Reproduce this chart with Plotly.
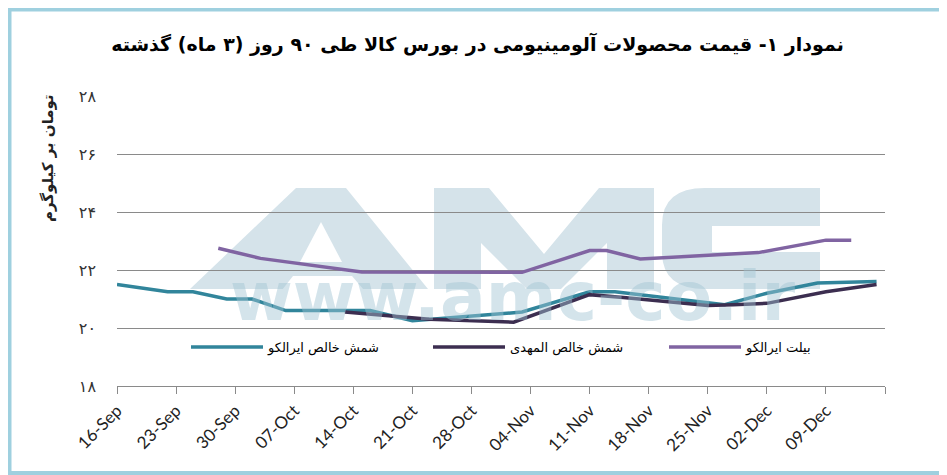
import plotly.graph_objects as go

# ---------------- data ----------------
tick_dates = ["2019-09-16", "2019-09-23", "2019-09-30", "2019-10-07", "2019-10-14",
              "2019-10-21", "2019-10-28", "2019-11-04", "2019-11-11", "2019-11-18",
              "2019-11-25", "2019-12-02", "2019-12-09", "2019-12-16"]
tick_labels = ["16-Sep", "23-Sep", "30-Sep", "07-Oct", "14-Oct", "21-Oct", "28-Oct",
               "04-Nov", "11-Nov", "18-Nov", "25-Nov", "02-Dec", "09-Dec", ""]

y_tick_vals = [18, 20, 22, 24, 26, 28]
y_tick_labels = ["۱۸", "۲۰", "۲۲", "۲۴", "۲۶", "۲۸"]

iralco_ingot_dates = ["2019-09-16", "2019-09-22", "2019-09-25", "2019-09-29", "2019-10-02",
                      "2019-10-06", "2019-10-13", "2019-10-16", "2019-10-21", "2019-11-03",
                      "2019-11-11", "2019-11-14", "2019-11-27", "2019-12-02", "2019-12-08",
                      "2019-12-15"]
iralco_ingot_values = [21.5, 21.25, 21.25, 21.0, 21.0, 20.6, 20.6, 20.6, 20.25, 20.55,
                       21.25, 21.25, 20.8, 21.2, 21.55, 21.6]

almahdi_ingot_dates = ["2019-10-13", "2019-10-23", "2019-11-02", "2019-11-11", "2019-11-15",
                       "2019-11-18", "2019-11-25", "2019-11-28", "2019-12-02", "2019-12-09",
                       "2019-12-15"]
almahdi_ingot_values = [20.55, 20.3, 20.2, 21.15, 21.05, 20.97, 20.78, 20.8, 20.85, 21.25, 21.5]

iralco_billet_dates = ["2019-09-28", "2019-10-03", "2019-10-15", "2019-11-03", "2019-11-11",
                       "2019-11-13", "2019-11-17", "2019-12-01", "2019-12-09", "2019-12-12"]
iralco_billet_values = [22.75, 22.4, 21.93, 21.92, 22.67, 22.67, 22.38, 22.6, 23.03, 23.03]

series_names = ["شمش خالص ایرالکو", "شمش خالص المهدی", "بیلت ایرالکو"]

title_text = "نمودار ۱- قیمت محصولات آلومینیومی در بورس کالا طی ۹۰ روز (۳ ماه) گذشته"
y_title_text = "تومان بر کیلوگرم"
watermark_text = "www.amc-co.ir"

# ---------------- layout geometry (screen pixels) ----------------
W, H = 947, 475
OFF = 8                      # page body margin offset
PL, PR, PT, PB = 117, 885, 96, 386


def px(x):
    return (x - PL) / (PR - PL)


def py(y):
    return (PB - y) / (PB - PT)


def path(points):
    return "M " + " L ".join(f"{px(a):.5f},{py(b):.5f}" for a, b in points) + " Z"


WM = "rgb(213,227,234)"

fig = go.Figure()
colors = ["#31859B", "#3C2E50", "#8064A2"]
legend_ids = ["legend", "legend2", "legend3"]
for name, xs, ys, c, lg in zip(series_names,
                               [iralco_ingot_dates, almahdi_ingot_dates, iralco_billet_dates],
                               [iralco_ingot_values, almahdi_ingot_values, iralco_billet_values],
                               colors, legend_ids):
    fig.add_trace(go.Scatter(x=xs, y=ys, mode="lines", name=name, legend=lg,
                             line=dict(color=c, width=3.5), hoverinfo="skip"))

shapes = []
# watermark letters (decorative)
A_outer = [(190, 289), (296, 188), (346, 188), (428, 289)]
A_hole = [(300, 262), (321, 222), (342, 262)]
A_gap = [(282, 290), (293, 276), (352, 276), (364, 290)]
M_pts = [(434, 289), (434, 188), (489, 188), (544, 254), (599, 188), (654, 188), (654, 289),
         (607, 289), (607, 243), (561, 289), (527, 289), (481, 243), (481, 289)]
for pts, col in [(A_outer, WM), (A_hole, "white"), (A_gap, "white"), (M_pts, WM)]:
    shapes.append(dict(type="path", path=path(pts), xref="paper", yref="paper",
                       fillcolor=col, line=dict(width=0), layer="below"))
c_path = (f"M {px(820):.5f},{py(188):.5f} L {px(705):.5f},{py(188):.5f} "
          f"Q {px(662):.5f},{py(188):.5f} {px(662):.5f},{py(225):.5f} "
          f"L {px(662):.5f},{py(252):.5f} Q {px(662):.5f},{py(289):.5f} {px(705):.5f},{py(289):.5f} "
          f"L {px(820):.5f},{py(289):.5f} L {px(820):.5f},{py(252):.5f} L {px(712):.5f},{py(252):.5f} "
          f"L {px(712):.5f},{py(226):.5f} L {px(820):.5f},{py(226):.5f} Z")
shapes.append(dict(type="path", path=c_path, xref="paper", yref="paper",
                   fillcolor=WM, line=dict(width=0), layer="below"))
# outer frame (figure starts at screen OFF)
shapes.append(dict(type="rect", xref="paper", yref="paper",
                   x0=px(OFF + 1.5), x1=px(W - 2), y0=py(H - 2), y1=py(OFF + 1.5),
                   line=dict(color="#9FD0DF", width=4), fillcolor="rgba(0,0,0,0)", layer="above"))

annotations = [
    dict(text=watermark_text, xref="paper", yref="paper", x=px(512), y=py(338),
         xanchor="center", yanchor="bottom", showarrow=False,
         font=dict(family="DejaVu Sans", size=68, color="rgba(160,195,210,0.45)", weight="bold")),
    dict(text=y_title_text, xref="paper", yref="paper", x=px(48), y=py(158),
         xanchor="center", yanchor="middle", textangle=-90, showarrow=False,
         font=dict(family="DejaVu Sans", size=15, color="#222222", weight="bold")),
]

legend_font = dict(family="DejaVu Sans", size=13, color="black")
legend_starts = [186, 428, 664]
legend_common = dict(orientation="h", yanchor="middle", xanchor="left",
                     bgcolor="rgba(0,0,0,0)", font=legend_font, itemwidth=72)

fig.update_layout(
    width=W - OFF, height=H - OFF,
    margin=dict(l=PL - OFF, r=W - PR, t=PT - OFF, b=H - PB, pad=0),
    paper_bgcolor="white", plot_bgcolor="rgba(0,0,0,0)",
    title=dict(text=title_text, x=0.5, xanchor="center", y=1 - (44 - OFF) / (H - OFF),
               yanchor="middle",
               font=dict(family="DejaVu Sans", size=19, color="black", weight="bold")),
    showlegend=True,
    legend=dict(x=px(legend_starts[0]), y=py(347), **legend_common),
    legend2=dict(x=px(legend_starts[1]), y=py(347), **legend_common),
    legend3=dict(x=px(legend_starts[2]), y=py(347), **legend_common),
    shapes=shapes,
    annotations=annotations,
    xaxis=dict(type="date", range=[tick_dates[0], tick_dates[-1]],
               tickmode="array", tickvals=tick_dates, ticktext=tick_labels,
               tickangle=-45, ticks="outside", ticklen=7, tickcolor="#8a8a8a",
               showline=True, linecolor="#8a8a8a", linewidth=1, showgrid=False,
               zeroline=False,
               tickfont=dict(family="Lato", size=17, color="#222222")),
    yaxis=dict(range=[18, 28], tickmode="array", tickvals=y_tick_vals, ticktext=y_tick_labels,
               showgrid=True, gridcolor="#8a8a8a", gridwidth=1, zeroline=False,
               showline=False, ticks="", ticklabelstandoff=20,
               tickfont=dict(family="DejaVu Sans", size=16, color="#333333")),
)

fig.write_html("out.html")
